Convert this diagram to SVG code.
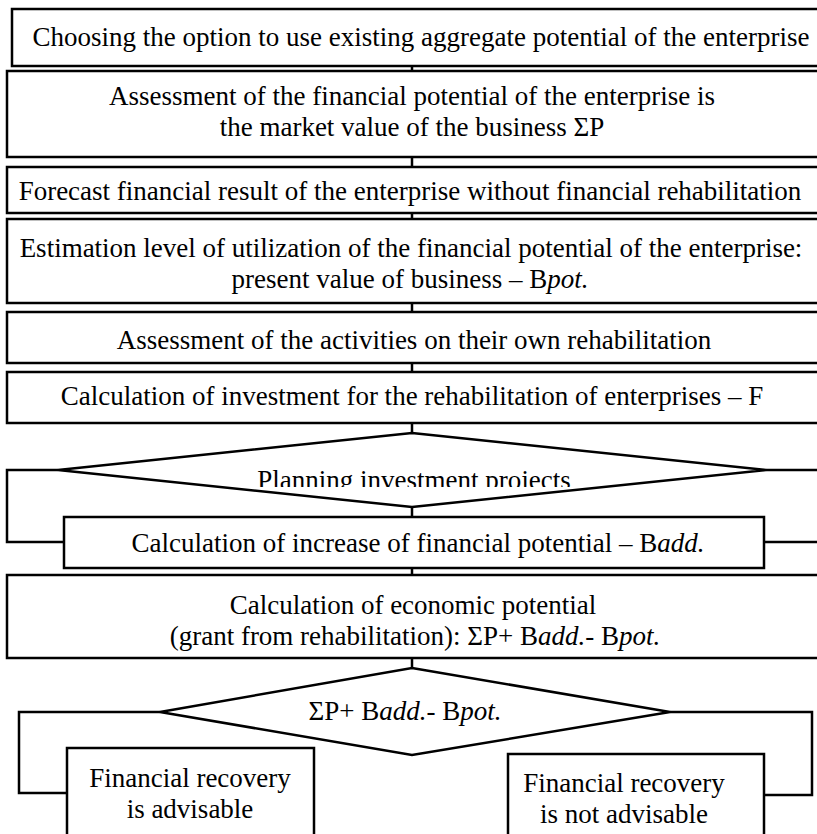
<svg xmlns="http://www.w3.org/2000/svg" width="817" height="834" viewBox="0 0 817 834">
  <style>
    .box { fill: #fff; stroke: #000; stroke-width: 2.5; }
    .conn { fill: none; stroke: #000; stroke-width: 2.5; }
    .t { font-family: "Liberation Serif", "Times New Roman", serif; font-size: 27px; text-anchor: middle; fill: #000; }
    .it { font-style: italic; }
  </style>
  <defs>
    <!-- the label of the first decision is cut at its baseline -->
    <clipPath id="planClip">
      <rect x="0" y="440" width="817" height="47"/>
    </clipPath>
  </defs>
  <rect width="817" height="834" fill="#fff"/>

  <g id="connectors">
    <line class="conn" x1="412" y1="66" x2="412" y2="71"/>
    <line class="conn" x1="412" y1="157" x2="412" y2="167"/>
    <line class="conn" x1="412" y1="213" x2="412" y2="219"/>
    <line class="conn" x1="412" y1="303" x2="412" y2="312"/>
    <line class="conn" x1="412" y1="363" x2="412" y2="372"/>
    <line class="conn" x1="412" y1="423" x2="412" y2="433"/>
    <line class="conn" x1="412" y1="507" x2="412" y2="517"/>
    <line class="conn" x1="412" y1="568" x2="412" y2="575"/>
    <line class="conn" x1="412" y1="658" x2="412" y2="668"/>
    <polyline class="conn" points="58,470 7,470 7,542 64,542"/>
    <line class="conn" x1="766" y1="470" x2="830" y2="470"/>
    <line class="conn" x1="764" y1="542" x2="830" y2="542"/>
    <polyline class="conn" points="160,712 19,712 19,793 67,793"/>
    <polyline class="conn" points="670,712 812,712 812,795 764,795"/>
  </g>

  <g id="n-choose">
    <rect class="box" x="12" y="9" width="818" height="57"/>
    <text class="t" x="421" y="46">Choosing the option to use existing aggregate potential of the enterprise</text>
  </g>

  <g id="n-assess-fin">
    <rect class="box" x="7" y="71" width="823" height="86"/>
    <text class="t" x="412" y="105">Assessment of the financial potential of the enterprise is</text>
    <text class="t" x="412" y="136">the market value of the business ΣP</text>
  </g>

  <g id="n-forecast">
    <rect class="box" x="7" y="167" width="823" height="46"/>
    <text class="t" x="410" y="200">Forecast financial result of the enterprise without financial rehabilitation</text>
  </g>

  <g id="n-estimation">
    <rect class="box" x="7" y="219" width="823" height="84"/>
    <text class="t" x="411" y="257">Estimation level of utilization of the financial potential of the enterprise:</text>
    <text class="t" x="410" y="288">present value of business – B<tspan class="it">pot.</tspan></text>
  </g>

  <g id="n-activities">
    <rect class="box" x="7" y="312" width="823" height="51"/>
    <text class="t" x="414" y="349">Assessment of the activities on their own rehabilitation</text>
  </g>

  <g id="n-investment">
    <rect class="box" x="7" y="372" width="823" height="51"/>
    <text class="t" x="412" y="405">Calculation of investment for the rehabilitation of enterprises – F</text>
  </g>

  <g id="n-planning">
    <polygon class="box" points="412,433 766,470 412,507 58,470"/>
    <text class="t" x="414" y="489" clip-path="url(#planClip)">Planning investment projects</text>
  </g>

  <g id="n-increase">
    <rect class="box" x="64" y="517" width="700" height="51"/>
    <text class="t" x="418" y="552">Calculation of increase of financial potential – B<tspan class="it">add.</tspan></text>
  </g>

  <g id="n-economic">
    <rect class="box" x="7" y="575" width="823" height="83"/>
    <text class="t" x="413" y="614">Calculation of economic potential</text>
    <text class="t" x="415" y="645">(grant from rehabilitation): ΣP+ B<tspan class="it">add.</tspan>- B<tspan class="it">pot.</tspan></text>
  </g>

  <g id="n-decision">
    <polygon class="box" points="412,668 670,712 412,755 160,712"/>
    <text class="t" x="405" y="720">ΣP+ B<tspan class="it">add.</tspan>- B<tspan class="it">pot.</tspan></text>
  </g>

  <g id="n-advisable">
    <rect class="box" x="67" y="748" width="247" height="100"/>
    <text class="t" x="190" y="787">Financial recovery</text>
    <text class="t" x="190" y="818">is advisable</text>
  </g>

  <g id="n-not-advisable">
    <rect class="box" x="508" y="754" width="256" height="100"/>
    <text class="t" x="624" y="792">Financial recovery</text>
    <text class="t" x="624" y="823">is not advisable</text>
  </g>
</svg>
